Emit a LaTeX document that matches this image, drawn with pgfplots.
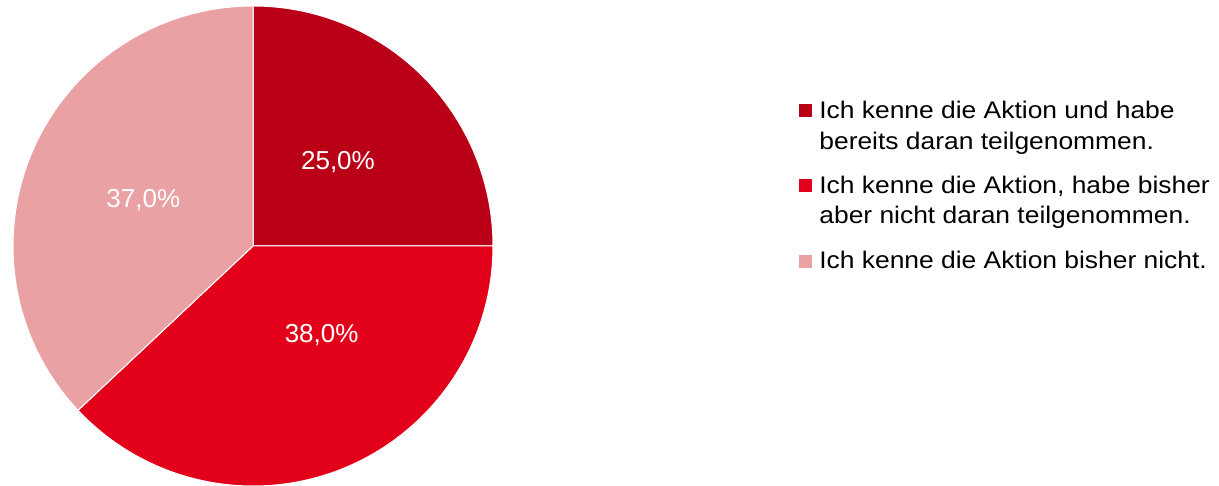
\documentclass[border=0pt]{standalone}
\usepackage{pgfplots}
\pgfplotsset{compat=1.18}
\usepackage{fontspec}
\setmainfont{Liberation Sans}
\newfontfamily\legfont{Liberation Sans}[FakeStretch=1.1]
\definecolor{cA}{RGB}{186,0,22}
\definecolor{cB}{RGB}{226,0,26}
\definecolor{cC}{RGB}{234,161,163}
\begin{document}
\begin{tikzpicture}
\path[use as bounding box] (0,0) rectangle (609.5pt,243pt);
% shares (percent)
\def\vA{25.0}\def\vB{38.0}\def\vC{37.0}
\pgfmathsetmacro{\aA}{90}
\pgfmathsetmacro{\aB}{90-3.6*\vA}
\pgfmathsetmacro{\aC}{\aB-3.6*\vB}
\pgfmathsetmacro{\aD}{\aC-3.6*\vC}
\pgfmathsetmacro{\xA}{cos(\aA)}\pgfmathsetmacro{\yA}{sin(\aA)}
\pgfmathsetmacro{\xB}{cos(\aB)}\pgfmathsetmacro{\yB}{sin(\aB)}
\pgfmathsetmacro{\xC}{cos(\aC)}\pgfmathsetmacro{\yC}{sin(\aC)}
\begin{axis}[
  at={(6.5pt,0pt)}, anchor=south west,
  scale only axis, width=240pt, height=240pt,
  xmin=-1, xmax=1, ymin=-1, ymax=1,
  hide axis, clip=false]
\fill[cA, draw=white, line width=0.5pt] (axis cs:0,0) -- (axis cs:\xA,\yA) arc[start angle=\aA, end angle=\aB, radius=120pt] -- cycle;
\fill[cB, draw=white, line width=0.5pt] (axis cs:0,0) -- (axis cs:\xB,\yB) arc[start angle=\aB, end angle=\aC, radius=120pt] -- cycle;
\fill[cC, draw=white, line width=0.5pt] (axis cs:0,0) -- (axis cs:\xC,\yC) arc[start angle=\aC, end angle=\aD, radius=120pt] -- cycle;
\begin{scope}[every node/.style={text=white, font=\fontsize{13}{15}\selectfont, inner sep=0pt}]
\node at (axis cs:0.354,0.351) {25,0\%};
\node at (axis cs:0.286,-0.371) {38,0\%};
\node at (axis cs:-0.457,0.192) {37,0\%};
\end{scope}
% legend
\begin{scope}[every node/.style={font=\legfont\fontsize{12}{14}\selectfont, inner sep=0pt, anchor=base west}]
\fill[cA] (axis cs:2.275,0.5375) rectangle (axis cs:2.3292,0.5931);
\fill[cB] (axis cs:2.275,0.2236) rectangle (axis cs:2.3292,0.2792);
\fill[cC] (axis cs:2.275,-0.0931) rectangle (axis cs:2.3292,-0.0375);
\node at (axis cs:2.3583,0.5333) {Ich kenne die Aktion und habe};
\node at (axis cs:2.3583,0.4028) {bereits daran teilgenommen.};
\node at (axis cs:2.3583,0.2196) {Ich kenne die Aktion, habe bisher};
\node at (axis cs:2.3583,0.0946) {aber nicht daran teilgenommen.};
\node at (axis cs:2.3583,-0.0930) {Ich kenne die Aktion bisher nicht.};
\end{scope}
\end{axis}
\end{tikzpicture}
\end{document}
